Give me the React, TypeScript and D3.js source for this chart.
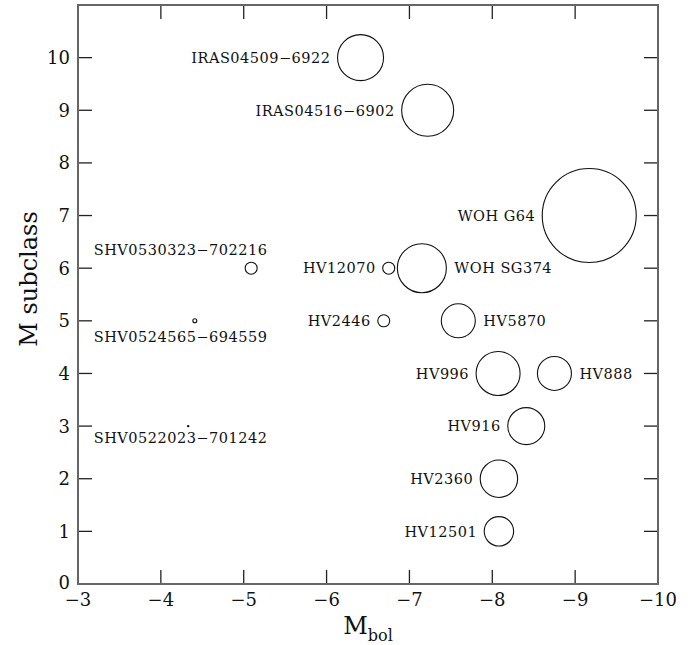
import React from "react";
import * as d3 from "d3";

const names = [
  "IRAS04509−6922",
  "IRAS04516−6902",
  "WOH G64",
  "WOH SG374",
  "HV12070",
  "HV2446",
  "HV5870",
  "HV996",
  "HV888",
  "HV916",
  "HV2360",
  "HV12501",
  "SHV0530323−702216",
  "SHV0524565−694559",
  "SHV0522023−701242",
];
const mbol = [-6.41, -7.22, -9.17, -7.15, -6.75, -6.69, -7.59, -8.07, -8.75, -8.41, -8.08, -8.08, -5.09, -4.41, -4.33];
const subclass = [10, 9, 7, 6, 6, 5, 5, 4, 4, 3, 2, 1, 6, 5, 3];
const bubbleSize = [23, 26, 47, 24.5, 6, 6, 17, 22, 17, 18.5, 18.7, 14.7, 6, 2, 1];
const labelSide = ["left", "left", "left", "right", "left", "left", "right", "left", "right", "left", "left", "left", "above", "below", "below"];

const xTicks = [-3, -4, -5, -6, -7, -8, -9, -10];
const yTicks = [0, 1, 2, 3, 4, 5, 6, 7, 8, 9, 10];

const W = 700;
const H = 645;
const M = { left: 78, right: 42, top: 5, bottom: 61 };
const FONT = "'DejaVu Serif', serif";

export default function App() {
  const x = d3.scaleLinear().domain([-3, -10]).range([M.left, W - M.right]);
  const y = d3.scaleLinear().domain([0, 11]).range([H - M.bottom, M.top]);
  const r = d3.scaleLinear().domain([0, 1]).range([0, 1]);
  const x0 = M.left, x1 = W - M.right, y0 = H - M.bottom, y1 = M.top;
  const tick = 14;
  const fmt = (v: number) => (v < 0 ? "−" + Math.abs(v) : String(v));

  return (
    <svg width={W} height={H} style={{ position: "absolute", left: 0, top: 0, background: "#fff" }}>
      <rect x={0} y={0} width={W} height={H} fill="#fff" />
      {/* ticks */}
      <g stroke="#222" strokeWidth={1.3}>
        {xTicks.map((t) => (
          <g key={"xt" + t}>
            <line x1={x(t)} x2={x(t)} y1={y0} y2={y0 - tick} />
            <line x1={x(t)} x2={x(t)} y1={y1} y2={y1 + tick} />
          </g>
        ))}
        {yTicks.map((t) => (
          <g key={"yt" + t}>
            <line x1={x0} x2={x0 + tick} y1={y(t)} y2={y(t)} />
            <line x1={x1} x2={x1 - tick} y1={y(t)} y2={y(t)} />
          </g>
        ))}
      </g>
      {/* frame */}
      <rect x={x0} y={y1} width={x1 - x0} height={y0 - y1} fill="none" stroke="#666" strokeWidth={2} />
      {/* tick labels */}
      <g fontFamily={FONT} fontSize={18} fill="#111">
        {xTicks.map((t) => (
          <text key={"xl" + t} x={x(t)} y={y0 + 22} textAnchor="middle">
            {fmt(t)}
          </text>
        ))}
        {yTicks.map((t) => (
          <text key={"yl" + t} x={x0 - 8} y={y(t)} dy={t === 0 ? "0.3em" : "0.36em"} textAnchor="end">
            {fmt(t)}
          </text>
        ))}
      </g>
      {/* axis titles */}
      <text x={(x0 + x1) / 2} y={H - 11} textAnchor="middle" fontFamily={FONT} fontSize={24} fill="#111">
        M
        <tspan fontSize={16} dy={7}>bol</tspan>
      </text>
      <text
        transform={`translate(37, ${279}) rotate(-90)`}
        textAnchor="middle"
        fontFamily={FONT}
        fontSize={24}
        fill="#111"
      >
        M subclass
      </text>
      {/* points */}
      <g>
        {names.map((n, i) => {
          const cx = x(mbol[i]);
          const cy = y(subclass[i]);
          const rr = r(bubbleSize[i]);
          return rr <= 1.2 ? (
            <circle key={"p" + i} cx={cx} cy={cy} r={1.2} fill="#000" />
          ) : (
            <circle key={"p" + i} cx={cx} cy={cy} r={rr} fill="none" stroke="#111" strokeWidth={1.1} />
          );
        })}
      </g>
      {/* labels */}
      <g fontFamily={FONT} fontSize={14.5} fill="#111" letterSpacing={0.5}>
        {names.map((n, i) => {
          const cx = x(mbol[i]);
          const cy = y(subclass[i]);
          const rr = r(bubbleSize[i]);
          const side = labelSide[i];
          if (side === "left")
            return (
              <text key={"l" + i} x={cx - rr - 7} y={cy} dy="0.365em" textAnchor="end">
                {n}
              </text>
            );
          if (side === "right")
            return (
              <text key={"l" + i} x={cx + rr + 8} y={cy} dy="0.365em" textAnchor="start">
                {n}
              </text>
            );
          const lx = x(-3.19);
          if (side === "above")
            return (
              <text key={"l" + i} x={lx} y={cy - 13}>
                {n}
              </text>
            );
          return (
            <text key={"l" + i} x={lx} y={cy + (subclass[i] === 5 ? 21 : 17)}>
              {n}
            </text>
          );
        })}
      </g>
    </svg>
  );
}
